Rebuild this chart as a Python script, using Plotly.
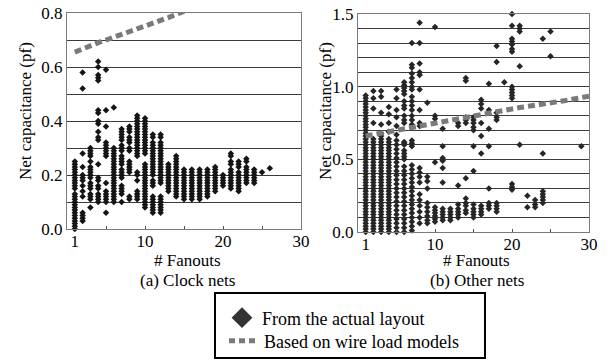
import plotly.graph_objects as go

# ---------------- data ----------------
clock_fanouts = [1, 2, 3, 4, 5, 6, 7, 8, 9, 10, 11, 12, 13, 14, 15, 16, 17, 18, 19, 20, 21, 22, 23, 24, 25, 26]
clock_caps = [
    [0.00, 0.01, 0.02, 0.03, 0.04, 0.05, 0.06, 0.07, 0.08, 0.09, 0.10, 0.11, 0.12, 0.13, 0.15, 0.16, 0.17, 0.18, 0.19, 0.20, 0.21, 0.22, 0.23, 0.24, 0.25],
    [0.58, 0.52, 0.28, 0.23, 0.20, 0.19, 0.18, 0.16, 0.14, 0.12, 0.06, 0.05, 0.04, 0.03],
    [0.30, 0.29, 0.28, 0.27, 0.25, 0.23, 0.22, 0.21, 0.20, 0.19, 0.17, 0.16, 0.15, 0.13, 0.12, 0.11, 0.08],
    [0.62, 0.60, 0.57, 0.56, 0.55, 0.44, 0.43, 0.40, 0.39, 0.36, 0.34, 0.33, 0.24, 0.19, 0.18, 0.16, 0.15, 0.13, 0.12, 0.11, 0.10],
    [0.59, 0.44, 0.38, 0.32, 0.31, 0.30, 0.29, 0.28, 0.27, 0.17, 0.14, 0.13, 0.12, 0.11, 0.10, 0.06],
    [0.45, 0.30, 0.29, 0.28, 0.27, 0.26, 0.25, 0.24, 0.23, 0.22, 0.21, 0.20, 0.19, 0.18, 0.17, 0.16, 0.15, 0.14, 0.13, 0.12, 0.11, 0.10],
    [0.37, 0.36, 0.35, 0.34, 0.33, 0.31, 0.30, 0.29, 0.27, 0.26, 0.25, 0.24, 0.22, 0.21, 0.20, 0.19, 0.16, 0.15, 0.14, 0.13, 0.10],
    [0.38, 0.37, 0.36, 0.34, 0.33, 0.32, 0.30, 0.29, 0.25, 0.24, 0.23, 0.22, 0.21, 0.12, 0.11],
    [0.42, 0.41, 0.40, 0.39, 0.38, 0.37, 0.36, 0.35, 0.34, 0.33, 0.32, 0.31, 0.30, 0.29, 0.28, 0.27, 0.21, 0.20, 0.18, 0.14, 0.13, 0.12, 0.11],
    [0.41, 0.40, 0.39, 0.38, 0.37, 0.36, 0.35, 0.34, 0.33, 0.32, 0.31, 0.30, 0.29, 0.28, 0.24, 0.23, 0.22, 0.21, 0.20, 0.19, 0.18, 0.17, 0.16, 0.15, 0.14, 0.13, 0.12, 0.11, 0.10, 0.09, 0.08],
    [0.35, 0.34, 0.32, 0.31, 0.30, 0.29, 0.28, 0.27, 0.26, 0.25, 0.24, 0.23, 0.22, 0.21, 0.20, 0.18, 0.17, 0.16, 0.12, 0.11, 0.10, 0.09, 0.08, 0.07, 0.06],
    [0.35, 0.34, 0.32, 0.31, 0.30, 0.29, 0.28, 0.27, 0.26, 0.25, 0.24, 0.23, 0.22, 0.21, 0.20, 0.19, 0.18, 0.17, 0.12, 0.11, 0.10, 0.09, 0.08, 0.07, 0.06],
    [0.24, 0.23, 0.22, 0.21, 0.20, 0.19, 0.18, 0.17, 0.16, 0.15, 0.14],
    [0.27, 0.26, 0.25, 0.24, 0.23, 0.22, 0.21, 0.20, 0.19, 0.18, 0.17, 0.16, 0.15, 0.14, 0.13, 0.12],
    [0.22, 0.21, 0.20, 0.19, 0.18, 0.17, 0.16, 0.15, 0.14, 0.13, 0.12, 0.11],
    [0.22, 0.21, 0.20, 0.19, 0.18, 0.17, 0.16, 0.15, 0.14, 0.13, 0.12, 0.11],
    [0.22, 0.21, 0.20, 0.19, 0.18, 0.17, 0.16, 0.15, 0.14, 0.13, 0.12, 0.11],
    [0.22, 0.21, 0.20, 0.19, 0.18, 0.17, 0.16, 0.15, 0.14, 0.13, 0.12],
    [0.23, 0.22, 0.21, 0.20, 0.19, 0.18, 0.17, 0.16, 0.15, 0.14],
    [0.20, 0.19, 0.18, 0.17, 0.16],
    [0.28, 0.27, 0.25, 0.24, 0.22, 0.21, 0.20, 0.19, 0.18, 0.17, 0.16, 0.15],
    [0.25, 0.24, 0.23, 0.21, 0.20, 0.19, 0.18, 0.17, 0.16, 0.15, 0.14],
    [0.26, 0.25, 0.23, 0.22, 0.21, 0.20, 0.19, 0.18, 0.17],
    [0.22, 0.21, 0.20, 0.19, 0.18, 0.17],
    [0.21],
    [0.225],
]

other_fanouts = [1, 2, 3, 4, 5, 6, 7, 8, 9, 10, 11, 12, 13, 14, 15, 16, 17, 18, 19, 20, 21, 22, 23, 24, 25, 29]
other_caps = [
    [0.00, 0.02, 0.04, 0.06, 0.08, 0.10, 0.12, 0.14, 0.16, 0.18, 0.20, 0.22, 0.24, 0.26, 0.28, 0.30, 0.32, 0.34, 0.36, 0.38, 0.40, 0.42, 0.44, 0.46,
     0.48, 0.50, 0.52, 0.54, 0.56, 0.58, 0.60, 0.62, 0.64, 0.66, 0.68, 0.70, 0.72, 0.74, 0.76, 0.78, 0.80, 0.82, 0.84, 0.86, 0.88, 0.90, 0.92, 0.94],
    [0.97, 0.92, 0.85, 0.75, 0.00, 0.02, 0.04, 0.06, 0.08, 0.10, 0.12, 0.14, 0.16, 0.18, 0.20, 0.22, 0.24, 0.26, 0.28, 0.30, 0.32, 0.34,
     0.36, 0.38, 0.40, 0.42, 0.44, 0.46, 0.48, 0.50, 0.52, 0.54, 0.56, 0.58, 0.60, 0.62, 0.64],
    [0.97, 0.93, 0.82, 0.74, 0.00, 0.02, 0.04, 0.06, 0.08, 0.10, 0.12, 0.14, 0.16, 0.18, 0.20, 0.22, 0.24, 0.26, 0.28, 0.30, 0.32, 0.34,
     0.36, 0.38, 0.40, 0.42, 0.44, 0.46, 0.48, 0.50, 0.52, 0.54, 0.56, 0.58, 0.60, 0.62, 0.64, 0.66, 0.68],
    [0.86, 0.81, 0.75, 0.69, 0.00, 0.02, 0.04, 0.06, 0.08, 0.10, 0.12, 0.14, 0.16, 0.18, 0.20, 0.22, 0.24, 0.26, 0.28, 0.30, 0.32, 0.34,
     0.36, 0.38, 0.40, 0.42, 0.44, 0.46, 0.48, 0.50, 0.52, 0.54, 0.56, 0.58, 0.60, 0.62, 0.64],
    [0.98, 0.92, 0.84, 0.79, 0.73, 0.67, 0.00, 0.03, 0.06, 0.09, 0.12, 0.15, 0.18, 0.21, 0.24, 0.27, 0.30, 0.33, 0.36, 0.39, 0.42, 0.45,
     0.48, 0.51, 0.54, 0.57, 0.60, 0.63],
    [1.03, 1.01, 0.99, 0.97, 0.95, 0.90, 0.87, 0.85, 0.80, 0.77, 0.75, 0.62, 0.61, 0.60, 0.56, 0.54, 0.52, 0.50,
     0.00, 0.03, 0.06, 0.09, 0.12, 0.15, 0.18, 0.21, 0.24, 0.27, 0.30, 0.33, 0.36, 0.39, 0.42, 0.45],
    [1.30, 1.15, 1.13, 1.09, 1.06, 1.03, 1.00, 0.98, 0.93, 0.90, 0.87, 0.84, 0.80, 0.77, 0.74, 0.63, 0.61, 0.59,
     0.01, 0.04, 0.07, 0.10, 0.13, 0.16, 0.19, 0.22, 0.25, 0.28, 0.31, 0.34, 0.37, 0.40, 0.43, 0.46],
    [1.44, 1.30, 1.16, 1.10, 1.08, 0.98, 0.84, 0.75, 0.73, 0.44, 0.41, 0.38, 0.34, 0.26, 0.22, 0.18, 0.14, 0.10, 0.06],
    [0.89, 0.38, 0.35, 0.30, 0.20, 0.17, 0.14, 0.11, 0.08, 0.06],
    [1.41, 0.80, 0.78, 0.48, 0.17, 0.15, 0.13, 0.11, 0.09, 0.07],
    [0.71, 0.59, 0.51, 0.49, 0.44, 0.34, 0.16, 0.14, 0.12, 0.10, 0.08],
    [0.16, 0.14, 0.12, 0.10, 0.08],
    [0.75, 0.73, 0.32, 0.19, 0.16, 0.14, 0.12, 0.10],
    [1.06, 1.04, 0.79, 0.77, 0.75, 0.37, 0.23, 0.20, 0.18, 0.15, 0.13],
    [0.79, 0.77, 0.75, 0.72, 0.70, 0.59, 0.42, 0.19, 0.16, 0.14, 0.12, 0.10],
    [0.91, 0.88, 0.85, 0.75, 0.66, 0.54, 0.18, 0.16, 0.14, 0.12],
    [1.02, 0.84, 0.71, 0.59, 0.30, 0.20, 0.18, 0.16],
    [1.28, 1.17, 0.82, 0.79, 0.77, 0.20, 0.18, 0.16, 0.14],
    [1.03],
    [1.50, 1.42, 1.33, 1.31, 1.29, 1.26, 1.24, 1.00, 0.98, 0.96, 0.94, 0.92, 0.33, 0.31, 0.29],
    [1.42, 1.40, 1.38, 1.14, 0.60],
    [0.25, 0.17],
    [0.22, 0.19, 0.17],
    [1.33, 0.54, 0.28, 0.26, 0.24, 0.22, 0.20],
    [1.38, 1.21],
    [0.59],
]

clock_wire_fanouts = [1, 2, 3, 4, 5, 6, 7, 8, 9, 10, 11, 12, 13, 14, 15]
clock_wire_caps = [0.655, 0.668, 0.680, 0.690, 0.700, 0.710, 0.720, 0.730, 0.743, 0.752, 0.762, 0.773, 0.783, 0.795, 0.806]

other_wire_fanouts = [1, 2, 3, 4, 5, 6, 7, 8, 9, 10, 11, 12, 13, 14, 15, 16, 17, 18, 19, 20, 21, 22, 23, 24, 25, 26, 27, 28, 29, 30]
other_wire_caps = [0.660, 0.670, 0.680, 0.690, 0.700, 0.715, 0.725, 0.733, 0.742, 0.755, 0.765, 0.773, 0.780, 0.790, 0.800,
                   0.808, 0.818, 0.830, 0.838, 0.848, 0.856, 0.864, 0.871, 0.878, 0.890, 0.898, 0.905, 0.915, 0.925, 0.935]

x_tick_vals = [1, 10, 20, 30]
x_minor_ticks = [5, 10, 15, 20, 25]
clock_y_ticks = [0.0, 0.2, 0.4, 0.6, 0.8]
other_y_ticks = [0.0, 0.5, 1.0, 1.5]

legend_names = ["From the actual layout", "Based on wire load models"]
x_title = "# Fanouts"
y_title = "Net capacitance (pf)"
panel_titles = ["(a) Clock nets", "(b) Other nets"]

# ---------------- figure ----------------
W, H = 612, 360
FONT = "Liberation Serif, Times New Roman, Times, serif"
GRID = "#3a3a3a"
FRAME = "#7a7a7a"
DOT = "#7a7a7a"


def flatten(fans, caps):
    xs, ys = [], []
    for f, col in zip(fans, caps):
        xs.extend([f] * len(col))
        ys.extend(col)
    return xs, ys


cx, cy = flatten(clock_fanouts, clock_caps)
ox, oy = flatten(other_fanouts, other_caps)

fig = go.Figure()
marker = dict(symbol="diamond", size=5, color="#151515", line=dict(width=0))
fig.add_trace(go.Scatter(x=cx, y=cy, mode="markers", marker=marker, showlegend=False,
                         xaxis="x", yaxis="y", cliponaxis=False, hoverinfo="skip"))
fig.add_trace(go.Scatter(x=ox, y=oy, mode="markers", marker=dict(marker, color="#262626"), showlegend=False,
                         xaxis="x2", yaxis="y2", cliponaxis=False, hoverinfo="skip"))
dash_line = dict(color=DOT, width=5, dash="7px,4px")
fig.add_trace(go.Scatter(x=clock_wire_fanouts, y=clock_wire_caps, mode="lines", line=dash_line,
                         showlegend=False, xaxis="x", yaxis="y", hoverinfo="skip"))
fig.add_trace(go.Scatter(x=other_wire_fanouts, y=other_wire_caps, mode="lines", line=dash_line,
                         showlegend=False, xaxis="x2", yaxis="y2", hoverinfo="skip"))

# legend entries (each in its own legend box so spacing matches the reference)
fig.add_trace(go.Scatter(x=[None], y=[None], mode="markers", name=legend_names[0],
                         marker=dict(symbol="diamond", size=16, color="#333333"), legend="legend"))
fig.add_trace(go.Scatter(x=[None], y=[None], mode="lines", name=legend_names[1],
                         line=dict(color=DOT, width=5, dash="6px,4px"), legend="legend2"))


def px(x):
    return x / W


def py(y):
    return 1 - y / H


L1, R1, T1, B1 = 67, 301, 13, 229
L2, R2, T2, B2 = 358, 589, 14, 232

afont = dict(family=FONT, size=17, color="black")
lfont = dict(family=FONT, size=18, color="black")
xcommon = dict(range=[0, 30], tickvals=x_tick_vals, ticks="", showgrid=False, zeroline=False,
               showline=True, linecolor=FRAME, linewidth=1, mirror=True, automargin=False,
               tickfont=afont, ticklabelstandoff=-3,
               minor=dict(tickvals=x_minor_ticks, ticks="inside", ticklen=3, tickcolor="#555", showgrid=False))
ycommon = dict(ticks="", showgrid=True, gridcolor=GRID, gridwidth=1, zeroline=False, automargin=False,
               showline=True, linecolor=FRAME, linewidth=1, mirror=True, tickformat=".1f",
               tickfont=afont,
               minor=dict(dtick=0.1, showgrid=True, gridcolor=GRID, gridwidth=1, ticks=""))

leg = dict(xanchor="left", yanchor="middle", bgcolor="rgba(0,0,0,0)", borderwidth=0, font=lfont)
fig.update_layout(
    width=W, height=H, margin=dict(l=0, r=0, t=0, b=0, autoexpand=False),
    paper_bgcolor="white", plot_bgcolor="white",
    font=afont, hovermode=False,
    xaxis=dict(xcommon, domain=[px(L1), px(R1)], anchor="y"),
    yaxis=dict(ycommon, domain=[py(B1), py(T1)], range=[0, 0.8], tickvals=clock_y_ticks, anchor="x"),
    xaxis2=dict(xcommon, domain=[px(L2), px(R2)], anchor="y2"),
    yaxis2=dict(ycommon, domain=[py(B2), py(T2)], range=[0, 1.5], tickvals=other_y_ticks, anchor="x2"),
    showlegend=True,
    legend=dict(leg, x=px(222), y=py(318)),
    legend2=dict(leg, x=px(224), y=py(341)),
)

# legend frame
fig.add_shape(type="rect", xref="paper", yref="paper", x0=px(215), x1=px(485), y0=py(358), y1=py(293),
              line=dict(color="black", width=2), fillcolor="rgba(0,0,0,0)")

ann = []
for cxp, title in [((L1 + R1) / 2 + 3, panel_titles[0]), ((L2 + R2) / 2 + 3, panel_titles[1])]:
    ann.append(dict(x=px(cxp), y=py(260), text=x_title, showarrow=False, xanchor="center", yanchor="middle",
                    font=afont))
    ann.append(dict(x=px(cxp), y=py(280), text=title, showarrow=False, xanchor="center", yanchor="middle",
                    font=afont))
for xp in [25, 325]:
    ann.append(dict(x=px(xp), y=py(111), text=y_title, textangle=-90, showarrow=False,
                    xanchor="center", yanchor="middle", font=afont))
for a in ann:
    a.update(xref="paper", yref="paper")
fig.update_layout(annotations=ann)

fig.write_html("out.html", post_script="document.body.style.margin='0px';",
               config={"displayModeBar": False, "staticPlot": True})
